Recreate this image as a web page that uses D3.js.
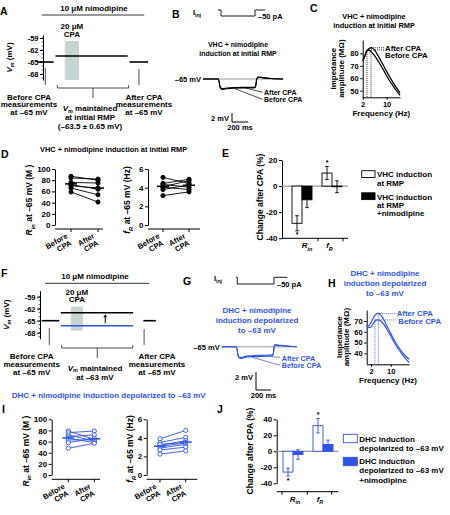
<!DOCTYPE html>
<html><head><meta charset="utf-8">
<script src="https://cdn.jsdelivr.net/npm/d3@7"></script>
<style>body{margin:0;background:#fff}</style>
</head><body>
<script>
// ================= DATA =================
// A / F schematic (time in min, Vm in mV)
const vmTicks = [-59, -62, -65, -68];
const schemA_start = [0, 10, 50];
const schemA_end = [9, 49, 60];
const schemA_vm = [-65, -63.5, -65];
const cpaA = [15, 22.7];
const cpaVmA = [-59.75, -69.5];
const nimoA = [2.6, 58];
const schemF_start = [0, 10.3, 54.8];
const schemF_end = [9.5, 49.3, 61.5];
const schemF_vm = [-65, -63, -65];
const initialVmF = -66.25;
const cpaF = [15.7, 22.2];
const cpaVmF = [-61.5, -67.5];
const nimoF = [1.8, 58];

// B / G traces (ms, mV) and current steps (ms, pA)
const traceB_t = [0, 190, 200, 210, 225, 250, 300, 400, 500, 600, 650, 660, 670, 685, 700, 750, 850, 1000];
const traceB_before = [-65, -65, -65.5, -66.6, -67.2, -67.3, -67.15, -67.05, -67.0, -67.0, -66.95, -66.5, -65.2, -64.6, -64.55, -64.7, -64.9, -65];
const traceB_after = [-65, -65, -65.4, -66.4, -67.0, -67.15, -67.0, -66.9, -66.85, -66.85, -66.8, -66.4, -65.1, -64.6, -64.6, -64.75, -64.9, -65];
const stepB_t = [187, 225, 225, 650, 650, 775];
const stepB_i = [0, 0, -50, -50, 0, 0];
const traceG_t = [0, 190, 205, 215, 230, 260, 300, 400, 500, 600, 680, 690, 700, 715, 730, 800, 900, 1000];
const traceG_before = [-65, -65, -65.3, -65.9, -66.25, -66.3, -66.2, -66.1, -66.1, -66.05, -66.0, -65.7, -65.0, -64.8, -64.85, -64.9, -64.95, -65];
const traceG_after = [-65, -65, -65.25, -65.8, -66.15, -66.2, -66.1, -66.0, -65.95, -65.95, -65.9, -65.6, -64.95, -64.75, -64.8, -64.85, -64.95, -65];
const stepG_t = [190, 208, 208, 697, 697, 875];
const stepG_i = [0, 0, -50, -50, 0, 0];

// C / H impedance profiles (Hz, MOhm)
const freqC = [2, 2.5, 3, 3.5, 4, 4.5, 5, 5.5, 6, 7, 8, 9, 10, 11, 12, 13, 14, 14.5];
const zBeforeC = [74, 76.5, 80.5, 82.7, 82.5, 81.8, 80.8, 79.5, 78, 74.5, 70.5, 66.5, 62, 58, 54.5, 51, 47.8, 46.3];
const zAfterC = [74.5, 76.5, 79.5, 82, 83.7, 84.4, 84.5, 83.8, 82.5, 78.8, 74.5, 70, 65.5, 61.3, 57.3, 53.5, 50, 48.3];
const peakFreqC = [3.45, 4.8];   // before, after
const peakZC = [82.7, 84.5];
const freqH = [0.3, 1, 2, 3, 4, 5, 6, 7, 8, 10, 12, 14, 16, 17.5];
const zBeforeH = [66, 64, 64.5, 68, 70.8, 71, 70, 67.5, 64, 56, 48, 41, 35, 31.5];
const zAfterH = [66.3, 65.5, 68.5, 73, 76.3, 77, 75.5, 72, 67.5, 58.5, 50, 43, 37.5, 34.5];
const peakFreqH = [3.6, 5.0];
const peakZH = [71, 77];

// D / I paired data
const pairCats = ["Before CPA", "After CPA"];
const rinBeforeD = [87, 84, 76, 72, 70, 66, 59];
const rinAfterD = [80, 82, 75, 64, 66, 54, 41];
const frBeforeD = [5.1, 4.45, 4.35, 4.1, 4.05, 3.8, 3.15];
const frAfterD = [4.45, 4.9, 4.05, 4.75, 3.8, 4.3, 3.55];
const rinBeforeI = [79, 76, 72, 69, 66, 63, 58, 48];
const rinAfterI = [64, 79, 61, 72, 58, 63, 66, 57];
const frBeforeI = [3.9, 3.5, 3.2, 3.1, 2.9, 2.7, 2.25, 3.3];
const frAfterI = [4.8, 4.05, 3.7, 3.45, 3.3, 3.0, 2.6, 3.5];

// E / J bar data (% change after CPA)
const barCats = ["Rin", "fR"];
const eCtrlMean = [-28.5, 10], eCtrlSem = [5.8, 5];
const eNimoMean = [-10.5, -0.5], eNimoSem = [6, 4.5];
const jCtrlMean = [-26, 32], jCtrlSem = [5, 9];
const jNimoMean = [-4, 8.5], jNimoSem = [6, 5.5];
const sigCtrl = [true, true];
const changeTicksE = [-40, -20, 0, 20];
const changeTicksJ = [-40, -20, 0, 20, 40];
const rinTicks = [0, 20, 40, 60, 80, 100];
const frTicks = [0, 2, 4, 6];
const zTicksC = [50, 60, 70, 80];
const zTicksH = [40, 50, 60, 70];
const fTicks = [2, 10];

// ================= DRAWING =================
const FONT = "'Liberation Sans', Arial, Helvetica, sans-serif";
const BLUE = "#2f55e4";
const RECT = "#c6d4d4";
const svg = d3.select("body").append("svg").attr("width", 450).attr("height", 515).style("background", "#fff");

function txt(x, y, s, o = {}) {
  const t = svg.append("text").attr("x", x).attr("y", y).text(s)
    .attr("font-family", FONT).attr("font-weight", "bold").attr("font-size", o.fs || 8)
    .attr("text-anchor", o.anchor || "start").attr("fill", o.fill || "#000");
  if (o.rot != null) t.attr("transform", `rotate(${o.rot},${x},${y})`);
  return t;
}
function lines(x, y, dy, arr, o = {}) { arr.forEach((s, i) => txt(x, y + i * dy, s, o)); }
function rich(x, y, parts, o = {}) {
  const fs = o.fs || 8;
  const t = svg.append("text").attr("x", x).attr("y", y)
    .attr("font-family", FONT).attr("font-weight", "bold").attr("font-size", fs)
    .attr("text-anchor", o.anchor || "start").attr("fill", o.fill || "#000");
  if (o.rot != null) t.attr("transform", `rotate(${o.rot},${x},${y})`);
  let shift = 0;
  parts.forEach(p => {
    const s = typeof p === "string" ? { t: p } : p;
    const ts = t.append("tspan").text(s.t);
    const want = s.sub ? fs * (o.subShift || 0.3) : 0;
    if (want !== shift) { ts.attr("dy", want - shift); shift = want; }
    if (s.sub) ts.attr("font-size", fs * 0.68);
    if (s.it) ts.attr("font-style", "italic");
  });
  return t;
}
function seg(x1, y1, x2, y2, o = {}) {
  return svg.append("line").attr("x1", x1).attr("y1", y1).attr("x2", x2).attr("y2", y2)
    .attr("stroke", o.c || "#000").attr("stroke-width", o.w || 1)
    .attr("stroke-dasharray", o.dash || null);
}
function letter(s, x, y) { txt(x, y, s, { fs: 10.5 }); }
function styleAxis(g, o) {
  g.attr("font-family", null).attr("font-size", null);
  g.select(".domain").attr("stroke", o.c || "#000").attr("stroke-width", o.sw || 1);
  g.selectAll(".tick line").attr("stroke", o.c || "#000").attr("stroke-width", o.sw || 1);
  g.selectAll("text").attr("font-family", FONT).attr("font-weight", "bold")
    .attr("font-size", o.fs || 8).attr("fill", "#000");
}
function yAxis(x, scale, ticks, o = {}) {
  const g = svg.append("g").attr("transform", `translate(${x},0)`)
    .call(d3.axisLeft(scale).tickValues(ticks).tickSize(o.ts || 3).tickSizeOuter(0)
      .tickPadding(o.pad == null ? 1.5 : o.pad).tickFormat(d => String(d)));
  styleAxis(g, o);
  return g;
}
function xAxis(y, scale, ticks, o = {}) {
  const g = svg.append("g").attr("transform", `translate(0,${y})`)
    .call(d3.axisBottom(scale).tickValues(ticks).tickSize(o.ts || 2.5).tickSizeOuter(0)
      .tickPadding(o.pad == null ? 1.5 : o.pad).tickFormat(o.fmt || (d => String(d))));
  styleAxis(g, o);
  return g;
}

// ---------- Schematic (A, F) ----------
function schematic(o) {
  const { x, y } = o;
  seg(x(o.nimo[0]), o.nimoY, x(o.nimo[1]), o.nimoY, { w: 0.8 });
  txt(o.nimoTextX, o.nimoY - 4.5, "10 μM nimodipine", { anchor: "middle" });
  svg.append("rect").attr("x", x(o.cpa[0])).attr("width", x(o.cpa[1]) - x(o.cpa[0]))
    .attr("y", y(o.cpaVm[0])).attr("height", y(o.cpaVm[1]) - y(o.cpaVm[0])).attr("fill", RECT);
  txt((x(o.cpa[0]) + x(o.cpa[1])) / 2, y(o.cpaVm[0]) - 12, "20 μM", { anchor: "middle" });
  txt((x(o.cpa[0]) + x(o.cpa[1])) / 2, y(o.cpaVm[0]) - 4.5, "CPA", { anchor: "middle" });
  // axis with minor ticks
  yAxis(o.axisX, y, vmTicks, { fs: 7.5, ts: 3 });
  d3.range(-69, -58).forEach(v => { if (y(v) >= y.range()[0] && y(v) <= y.range()[1]) seg(o.axisX - 1.5, y(v), o.axisX, y(v), { w: 0.6 }); });
  rich(o.axisX - 31, (y.range()[0] + y.range()[1]) / 2, [{ t: "V", it: true }, { t: "m", sub: true, it: true }, " (mV)"], { rot: -90, anchor: "middle" });
  if (o.initialVm != null) {
    svg.append("line").attr("x1", x(o.start[1])).attr("x2", x(o.end[1]))
      .attr("y1", y(o.initialVm)).attr("y2", y(o.initialVm)).attr("stroke", BLUE).attr("stroke-width", 1.6);
  }
  o.start.forEach((s, i) => {
    svg.append("line").attr("x1", x(s)).attr("x2", x(o.end[i])).attr("y1", y(o.vm[i])).attr("y2", y(o.vm[i]))
      .attr("stroke", "#000").attr("stroke-width", 1.6);
  });
  if (o.initialVm != null) {
    const ax = x((o.cpa[1] + o.end[1]) / 2 - 1.5);
    seg(ax, y(o.initialVm) - 2.5, ax, y(o.vm[1]) + 3.5, { w: 1 });
    svg.append("path").attr("d", `M${ax - 2},${y(o.vm[1]) + 4.5}L${ax},${y(o.vm[1]) + 1.5}L${ax + 2},${y(o.vm[1]) + 4.5}Z`).attr("fill", "#000");
  }
  const yb = o.brY;
  seg(x(o.measB), yb - 17, x(o.measB), yb, { w: 0.8, c: "#222" });
  seg(x(o.measA), yb - 16, x(o.measA), yb, { w: 0.8, c: "#222" });
  svg.append("path").attr("d", `M${x(o.br[0])},${yb}V${yb + 3}H${x(o.br[1])}V${yb}`).attr("fill", "none").attr("stroke", "#222").attr("stroke-width", 0.8);
  const mid = (o.br[0] + o.br[1]) / 2;
  seg(x(mid), yb + 3, x(mid), yb + 13, { w: 0.8, c: "#222" });
}

// Panel A
letter("A", 0, 15);
const xA = d3.scaleLinear().domain([0, 60]).range([37, 148]);
const yA = d3.scaleLinear().domain([-58.25, -69.5]).range([35, 80]);
schematic({ x: xA, y: yA, nimo: nimoA, nimoY: 15, nimoTextX: 94, cpa: cpaA, cpaVm: cpaVmA, axisX: 43,
  start: schemA_start, end: schemA_end, vm: schemA_vm, measB: 4.5, measA: 55.1, br: [11, 49.5], brY: 85 });
lines(29, 99.5, 7.8, ["Before CPA", "measurements", "at –65 mV"], { anchor: "middle" });
rich(90, 111.2, [{ t: "V", it: true }, { t: "m", sub: true, it: true }, " maintained"], { anchor: "middle", subShift: 0.2 });
lines(90, 120, 8.6, ["at initial RMP", "(–63.5 ± 0.65 mV)"], { anchor: "middle" });
lines(144, 99.5, 7.8, ["After CPA", "measurements", "at –65 mV"], { anchor: "middle" });

// Panel F
letter("F", 1, 277);
const xF = d3.scaleLinear().domain([0, 60]).range([41.7, 153]);
const yF = d3.scaleLinear().domain([-57.5, -69.5]).range([290.7, 338.7]);
schematic({ x: xF, y: yF, nimo: nimoF, nimoY: 283.3, nimoTextX: 95, cpa: cpaF, cpaVm: cpaVmF, axisX: 40,
  start: schemF_start, end: schemF_end, vm: schemF_vm, initialVm: initialVmF, measB: 4.1, measA: 55.2, br: [10.8, 49.1], brY: 345 });
lines(31.7, 358.5, 8.2, ["Before CPA", "measurements", "at –65 mV"], { anchor: "middle" });
rich(95, 370.5, [{ t: "V", it: true }, { t: "m", sub: true, it: true }, " maintained"], { anchor: "middle", subShift: 0.2 });
txt(95, 379.8, "at –63 mV", { anchor: "middle" });
lines(157, 358.5, 8.2, ["After CPA", "measurements", "at –65 mV"], { anchor: "middle" });

// ---------- Traces (B, G) ----------
function tracePanel(o) {
  const { x, y, iy, col } = o;
  rich(o.iLabel[0], o.iLabel[1], ["I", { t: "inj", sub: true }], { fs: 7.5 });
  svg.append("path").attr("d", d3.line().x(d => x(d[0])).y(d => iy(d[1]))(o.stepT.map((t, i) => [t, o.stepI[i]])))
    .attr("fill", "none").attr("stroke", "#000").attr("stroke-width", 0.9);
  txt(x(o.stepT[4]) + 3, iy(-50) + 3, "–50 pA", { fs: 7.5 });
  seg(x(0), y(-65), x(1000), y(-65), { c: "#bbb", w: 1.5 });
  txt(x(0) - 2, y(-65) + 3, "–65 mV", { anchor: "end", fs: 7.5 });
  const ln = d3.line().x(d => x(d[0])).y(d => y(d[1])).curve(d3.curveMonotoneX);
  [o.before, o.after].forEach(arr => {
    svg.append("path").attr("d", ln(o.t.map((t, i) => [t, arr[i]])))
      .attr("fill", "none").attr("stroke", col).attr("stroke-width", 1.1);
  });
  // pointers
  seg(x(o.t[8]), y(o.after[8]), o.lab[0] - 1.5, o.lab[1] - 3, { c: col, w: 0.7 });
  seg(x(o.t[7]), y(o.before[7]) + 0.5, o.lab[0] - 1.5, o.lab[1] + o.labDy - 3, { c: col, w: 0.7 });
  txt(o.lab[0], o.lab[1], "After CPA", { fs: o.labFs, fill: col });
  txt(o.lab[0], o.lab[1] + o.labDy, "Before CPA", { fs: o.labFs, fill: col });
  // scale bar
  const [sx, sy] = o.bar;
  const h = y(-67) - y(-65), w = x(200) - x(0);
  svg.append("path").attr("d", `M${sx},${sy - h}V${sy}H${sx + w}`).attr("fill", "none").attr("stroke", "#000").attr("stroke-width", 1);
  txt(sx - 3, sy - h / 2 + 3 + o.barTxtDy, "2 mV", { anchor: "end", fs: 7.5 });
  txt(sx + w / 2, sy + 8, "200 ms", { anchor: "middle", fs: 7.5 });
}
letter("B", 172, 18);
const xB = d3.scaleLinear().domain([0, 1000]).range([203, 283]);
const yB = d3.scaleLinear().domain([-65, -67]).range([79, 88]);
const iB = d3.scaleLinear().domain([0, -50]).range([10, 16]);
tracePanel({ x: xB, y: yB, iy: iB, col: "#000", iLabel: [193, 15], stepT: stepB_t, stepI: stepB_i,
  t: traceB_t, before: traceB_before, after: traceB_after, lab: [264, 95.3], labDy: 7, labFs: 7, bar: [232, 122], barTxtDy: 0 });
lines(238, 47, 8.5, ["VHC + nimodipine", "induction at initial RMP"], { anchor: "middle", fs: 7 });

letter("G", 183, 285);
const xG = d3.scaleLinear().domain([0, 1000]).range([221.7, 296.7]);
const yG = d3.scaleLinear().domain([-65, -67]).range([346.7, 364.7]);
const iG = d3.scaleLinear().domain([0, -50]).range([277.3, 284]);
tracePanel({ x: xG, y: yG, iy: iG, col: BLUE, iLabel: [214, 281], stepT: stepG_t, stepI: stepG_i,
  t: traceG_t, before: traceG_before, after: traceG_after, lab: [281.7, 360.5], labDy: 7.8, labFs: 7.2, bar: [256, 390], barTxtDy: -4 });
lines(257, 312.5, 10, ["DHC + nimodipine", "induction depolarized", "to –63 mV"], { anchor: "middle", fill: BLUE });

// ---------- Impedance (C, H) ----------
function impPanel(o) {
  const { x, y, col } = o;
  yAxis(o.axisX, y, o.yTicks, { fs: 7.5, ts: 2.5 });
  xAxis(o.axisY, x, fTicks, { fs: 7.5, ts: 2.5 });
  const ln = d3.line().x(d => x(d[0])).y(d => y(d[1])).curve(d3.curveCatmullRom);
  [o.zb, o.za].forEach(z => {
    svg.append("path").attr("d", ln(o.f.map((f, i) => [f, z[i]])))
      .attr("fill", "none").attr("stroke", col).attr("stroke-width", 1.2);
  });
  o.pf.forEach((f, i) => {
    seg(x(f), y(o.pz[i]), x(f), o.axisY, { c: col, w: 0.8, dash: "1,1" });
    seg(x(f), y(o.pz[i]), o.labX - 1, y(o.pz[i]), { c: col, w: 0.8, dash: "1,1" });
  });
  txt(o.labX, y(o.pz[1]) + 2.8, "After CPA", { fill: col, fs: 7.8 });
  txt(o.labX + o.labOff, y(o.pz[1]) + 2.8 + o.labDy, "Before CPA", { fill: col, fs: 7.8 });
  txt((x.range()[0] + x.range()[1]) / 2, o.axisY + 18.5, "Frequency (Hz)", { anchor: "middle" });
  const cy = (y.range()[0] + y.range()[1]) / 2;
  txt(o.yl[0], cy, o.ylabel, { rot: -90, anchor: "middle" });
  txt(o.yl[1], cy, "amplitude (MΩ)", { rot: -90, anchor: "middle" });
}
letter("C", 310, 12);
lines(374, 18.5, 9, ["VHC + nimodipine", "induction at initial RMP"], { anchor: "middle", fs: 7.4 });
const xC = d3.scaleLinear().domain([2, 14.5]).range([362.7, 400]);
const yC = d3.scaleLinear().domain([44.7, 90.7]).range([97.3, 40]);
impPanel({ x: xC, y: yC, col: "#000", axisX: 362.7, axisY: 97.3, yTicks: zTicksC, f: freqC, zb: zBeforeC, za: zAfterC,
  pf: peakFreqC, pz: peakZC, labX: 385, labOff: 0, labDy: 7.5, yl: [336.5, 344], ylabel: "Impedance" });

letter("H", 328, 287);
lines(385, 276.3, 10, ["DHC + nimodipine", "induction depolarized", "to –63 mV"], { anchor: "middle", fill: BLUE });
const xH = d3.scaleLinear().domain([0.25, 17.5]).range([366.7, 409.2]);
const yH = d3.scaleLinear().domain([29.8, 80.2]).range([364.3, 310]);
impPanel({ x: xH, y: yH, col: BLUE, axisX: 366.7, axisY: 364.3, yTicks: zTicksH, f: freqH, zb: zBeforeH, za: zAfterH,
  pf: peakFreqH, pz: peakZH, labX: 396.7, labOff: 1.6, labDy: 8, yl: [342.5, 349.5], ylabel: "Impedance" });

// ---------- Paired plots (D, I) ----------
function paired(o) {
  const { y, col } = o;
  const xs = d3.scalePoint().domain(pairCats).range(o.cx);
  yAxis(o.axisX, y, o.ticks, { fs: 8, ts: 3 });
  svg.append("path").attr("d", `M${o.axisX},${o.xAxisY}H${o.xEnd}`).attr("stroke", "#000").attr("stroke-width", 1);
  pairCats.forEach(c => {
    seg(xs(c), o.xAxisY, xs(c), o.xAxisY + 3);
    const [w1, w2] = c.split(" ");
    const g = svg.append("g").attr("transform", `translate(${xs(c) - 3},${o.xAxisY + 8.5}) rotate(-30)`);
    [w1, w2].forEach((w, i) => g.append("text").attr("x", 0).attr("y", i * 8).attr("text-anchor", "end")
      .attr("font-family", FONT).attr("font-weight", "bold").attr("font-size", 7.5).text(w));
  });
  o.before.forEach((b, i) => seg(xs(pairCats[0]), y(b), xs(pairCats[1]), y(o.after[i]), { c: col, w: 0.9 }));
  [o.before, o.after].forEach((arr, k) => {
    svg.selectAll(null).data(arr).enter().append("circle")
      .attr("cx", xs(pairCats[k])).attr("cy", d => y(d)).attr("r", 2.1)
      .attr("fill", o.open ? "#fff" : col).attr("stroke", col).attr("stroke-width", 0.9);
    const m = d3.mean(arr), sem = d3.deviation(arr) / Math.sqrt(arr.length);
    seg(xs(pairCats[k]) - 6, y(m), xs(pairCats[k]) + 6, y(m), { c: col, w: 1.5 });
    seg(xs(pairCats[k]), y(m - sem), xs(pairCats[k]), y(m + sem), { c: col, w: 1.2 });
  });
  rich(o.yl[0], o.yl[1], o.ylabel, { rot: -90, anchor: "middle", fs: 8.5 });
}
letter("D", 1, 158);
txt(40, 151.5, "VHC + nimodipine induction at initial RMP", { fs: 7.4 });
const yDr = d3.scaleLinear().domain([0, 100]).range([225, 169]);
paired({ y: yDr, col: "#000", cx: [71, 98], axisX: 55, xAxisY: 229, xEnd: 103, ticks: rinTicks,
  before: rinBeforeD, after: rinAfterD, yl: [32, 200],
  ylabel: [{ t: "R", it: true }, { t: "in", sub: true, it: true }, " at –65 mV (M )"] });
const yDf = d3.scaleLinear().domain([0, 6]).range([225, 169]);
paired({ y: yDf, col: "#000", cx: [163, 189], axisX: 148, xAxisY: 229, xEnd: 200, ticks: frTicks,
  before: frBeforeD, after: frAfterD, yl: [130, 200],
  ylabel: [{ t: "f", it: true }, { t: "R", sub: true, it: true }, " at –65 mV (Hz)"] });

letter("I", 2, 413);
txt(11.7, 397.5, "DHC + nimodipine induction depolarized to –63 mV", { fill: BLUE });
const yIr = d3.scaleLinear().domain([0, 100]).range([475, 419.3]);
paired({ y: yIr, col: BLUE, open: true, cx: [68.3, 94.3], axisX: 51.7, xAxisY: 479.3, xEnd: 100, ticks: rinTicks,
  before: rinBeforeI, after: rinAfterI, yl: [28.5, 451],
  ylabel: [{ t: "R", it: true }, { t: "in", sub: true, it: true }, " at –65 mV (M )"] });
const yIf = d3.scaleLinear().domain([0, 6]).range([475, 419.3]);
paired({ y: yIf, col: BLUE, open: true, cx: [160, 185.7], axisX: 146.7, xAxisY: 479.3, xEnd: 197.3, ticks: frTicks,
  before: frBeforeI, after: frAfterI, yl: [133, 449],
  ylabel: [{ t: "f", it: true }, { t: "R", sub: true, it: true }, " at –65 mV (Hz)"] });

// ---------- Bar charts (E, J) ----------
function bars(o) {
  const { y } = o;
  const xs = d3.scalePoint().domain(barCats).range(o.cx);
  yAxis(o.axisX, y, o.ticks, { fs: 8, ts: 3 });
  seg(o.axisX, y(0), o.xEnd, y(0), { c: "#999", w: 1.2 });
  svg.append("path").attr("d", `M${o.axisX},${o.xAxisY}H${o.xEnd}`).attr("stroke", "#000").attr("stroke-width", 1);
  o.xTicks.forEach(t => seg(t, o.xAxisY, t, o.xAxisY + 3));
  barCats.forEach((c, i) => {
    const groups = [[o.ctrl, o.ctrlSem, -o.bw, o.openFill, o.openStroke], [o.nimo, o.nimoSem, 0, o.fill, o.fill]];
    groups.forEach(([mean, sem, off, fill, stroke]) => {
      const v = mean[i];
      svg.append("rect").attr("x", xs(c) + off).attr("width", o.bw)
        .attr("y", Math.min(y(0), y(v))).attr("height", Math.abs(y(v) - y(0)))
        .attr("fill", fill).attr("stroke", stroke).attr("stroke-width", 0.9);
      const ex = xs(c) + off + o.bw / 2;
      seg(ex, y(v - sem[i]), ex, y(v + sem[i]), { c: stroke, w: 0.9 });
      seg(ex - 1.8, y(v - sem[i]), ex + 1.8, y(v - sem[i]), { c: stroke, w: 0.9 });
      seg(ex - 1.8, y(v + sem[i]), ex + 1.8, y(v + sem[i]), { c: stroke, w: 0.9 });
    });
    if (o.sig[i]) {
      const v = o.ctrl[i], s = o.ctrlSem[i];
      const yy = v < 0 ? y(v - s) + 6.5 : y(v + s) - 2;
      txt(xs(c) - o.bw / 2, yy, "*", { anchor: "middle", fs: 7 });
    }
    rich(xs(c) + o.labOff[i], o.xAxisY + 10, c === "Rin" ? [{ t: "R", it: true }, { t: "in", sub: true, it: true }] : [{ t: "f", it: true }, { t: "R", sub: true, it: true }], { anchor: "middle", fs: 8 });
  });
  txt(o.yl[0], o.yl[1], "Change after CPA (%)", { rot: -90, anchor: "middle", fs: 8.5 });
  // legend
  const L = o.legend;
  svg.append("rect").attr("x", L.x).attr("y", L.y1).attr("width", L.w).attr("height", L.h)
    .attr("fill", o.openFill).attr("stroke", o.openStroke).attr("stroke-width", 0.9);
  lines(L.x + L.w + 2, L.t1, L.dy, L.lab1, { fs: 8 });
  svg.append("rect").attr("x", L.x).attr("y", L.y2).attr("width", L.w).attr("height", L.h)
    .attr("fill", o.fill).attr("stroke", o.fill).attr("stroke-width", 0.9);
  lines(L.x + L.w + 2, L.t2, L.dy, L.lab2, { fs: 8 });
}
letter("E", 222, 157);
const yE = d3.scaleLinear().domain([-40, 20]).range([238.3, 160]);
bars({ y: yE, cx: [302, 332], axisX: 282, xAxisY: 238.3, xEnd: 348, xTicks: [318, 343], ticks: changeTicksE,
  bw: 10, ctrl: eCtrlMean, ctrlSem: eCtrlSem, nimo: eNimoMean, nimoSem: eNimoSem, sig: sigCtrl,
  openFill: "#fff", openStroke: "#000", fill: "#000", labOff: [5, -2.5], yl: [263, 197],
  legend: { x: 361.7, w: 13.3, h: 6.8, y1: 170.7, y2: 192.8, t1: 177.2, t2: 199.8, dy: 8.3,
    lab1: ["VHC induction", "at RMP"], lab2: ["VHC induction", "at RMP", "+nimodipine"] } });

letter("J", 217, 413);
const yJ = d3.scaleLinear().domain([-40, 40]).range([483.3, 419.3]);
bars({ y: yJ, cx: [293, 323], axisX: 276.7, xAxisY: 491.7, xEnd: 338.3, xTicks: [282, 307.3, 331.7], ticks: changeTicksJ,
  bw: 10, ctrl: jCtrlMean, ctrlSem: jCtrlSem, nimo: jNimoMean, nimoSem: jNimoSem, sig: sigCtrl,
  openFill: "#fff", openStroke: BLUE, fill: BLUE, labOff: [2, -3], yl: [253, 451],
  legend: { x: 343.3, w: 14, h: 8.4, y1: 434.3, y2: 457.3, t1: 441.7, t2: 464, dy: 9.3,
    lab1: ["DHC induction", "depolarized to –63 mV"], lab2: ["DHC induction", "depolarized to –63 mV", "+nimodipine"] } });
</script>
</body></html>
